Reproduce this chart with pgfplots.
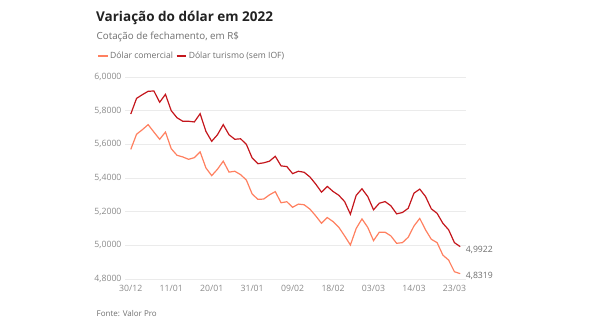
\documentclass[border=0pt]{standalone}
\usepackage{pgfplots}
\pgfplotsset{compat=1.18}
\usepackage{pgfplotstable}
\usepackage{fontspec}
\setmainfont{Open Sans}
\definecolor{tur}{HTML}{C4161C}
\definecolor{com}{HTML}{FF8060}
\definecolor{gridc}{HTML}{EBEBEB}
\definecolor{tickc}{HTML}{8A8A8A}
\definecolor{titlec}{HTML}{222222}
\definecolor{subc}{HTML}{6E6E6E}
\pgfplotstableread{
i com tur
0 5.570 5.780
1 5.660 5.873
2 5.687 5.895
3 5.717 5.915
4 5.673 5.917
5 5.630 5.850
6 5.673 5.897
7 5.574 5.800
8 5.535 5.758
9 5.525 5.737
10 5.511 5.737
11 5.521 5.733
12 5.555 5.782
13 5.460 5.677
14 5.414 5.618
15 5.452 5.657
16 5.500 5.717
17 5.435 5.657
18 5.440 5.630
19 5.420 5.633
20 5.388 5.600
21 5.305 5.519
22 5.273 5.485
23 5.275 5.490
24 5.300 5.500
25 5.319 5.529
26 5.253 5.472
27 5.259 5.468
28 5.226 5.426
29 5.245 5.440
30 5.241 5.434
31 5.215 5.406
32 5.175 5.364
33 5.131 5.316
34 5.165 5.350
35 5.141 5.320
36 5.107 5.297
37 5.056 5.260
38 5.002 5.185
39 5.100 5.297
40 5.157 5.336
41 5.107 5.290
42 5.028 5.211
43 5.078 5.250
44 5.078 5.260
45 5.056 5.235
46 5.012 5.187
47 5.016 5.195
48 5.048 5.220
49 5.115 5.310
50 5.160 5.334
51 5.092 5.290
52 5.036 5.217
53 5.016 5.190
54 4.942 5.131
55 4.912 5.092
56 4.843 5.016
57 4.8319 4.9922
}\datatable
\begin{document}
\begin{tikzpicture}
\begin{axis}[
  at={(0pt,0pt)}, anchor=south west,
  scale only axis, width=341pt, height=202pt,
  xmin=-1, xmax=58, ymin=4.8, ymax=6.0,
  clip=false,
  axis line style={draw=none}, tick style={draw=none},
  ymajorgrids, grid style={gridc, line width=0.9pt},
  ytick={4.8,5.0,5.2,5.4,5.6,5.8,6.0},
  yticklabel style={font=\fontsize{8.7}{10}\selectfont, text=tickc, /pgf/number format/.cd, fixed, fixed zerofill, precision=4, use comma, assume math mode=true},
  xtick={0,7,14,21,28,35,42,49,56},
  xticklabels={30/12,11/01,20/01,31/01,09/02,18/02,03/03,14/03,23/03},
  xticklabel style={font=\fontsize{8.7}{10}\selectfont, text=tickc, yshift=-2.5pt},
  legend style={at={(-0.09,1.1035)}, anchor=west, draw=none, fill=none,
    legend columns=2, font=\fontsize{8.6}{10}\selectfont, text=subc,
    /tikz/every even column/.append style={column sep=1pt}},
  legend image code/.code={\draw[#1] plot coordinates {(0pt,0pt) (9.5pt,0pt)};},
]
\addplot[com, line width=1.2pt] table[x=i, y=com] {\datatable};
\addlegendentry{Dólar comercial}
\addplot[tur, line width=1.2pt] table[x=i, y=tur] {\datatable};
\addlegendentry{Dólar turismo (sem IOF)}
\node[anchor=west, font=\fontsize{8.7}{10}\selectfont, text=subc, inner sep=0] at (axis cs:57,4.9922) [xshift=5.5pt, yshift=-3pt] {4,9922};
\node[anchor=west, font=\fontsize{8.7}{10}\selectfont, text=subc, inner sep=0] at (axis cs:57,4.8319) [xshift=5.5pt, yshift=-2.5pt] {4,8319};
\end{axis}
\node[anchor=base west, inner sep=0, font=\fontsize{13.5}{16}\selectfont\bfseries, text=titlec] at (-29pt,257.3pt) {Variação do dólar em 2022};
\node[anchor=base west, inner sep=0, font=\fontsize{9.8}{12}\selectfont, text=subc] at (-28.5pt,239.7pt) {Cotação de fechamento, em R\$};
\node[anchor=base west, inner sep=0, font=\fontsize{8}{10}\selectfont, text=subc] at (-28.5pt,-37pt) {Fonte: Valor Pro};
\pgfresetboundingbox
\path[use as bounding box] (-125pt,-51pt) rectangle (465pt,279pt);
\end{tikzpicture}
\end{document}
